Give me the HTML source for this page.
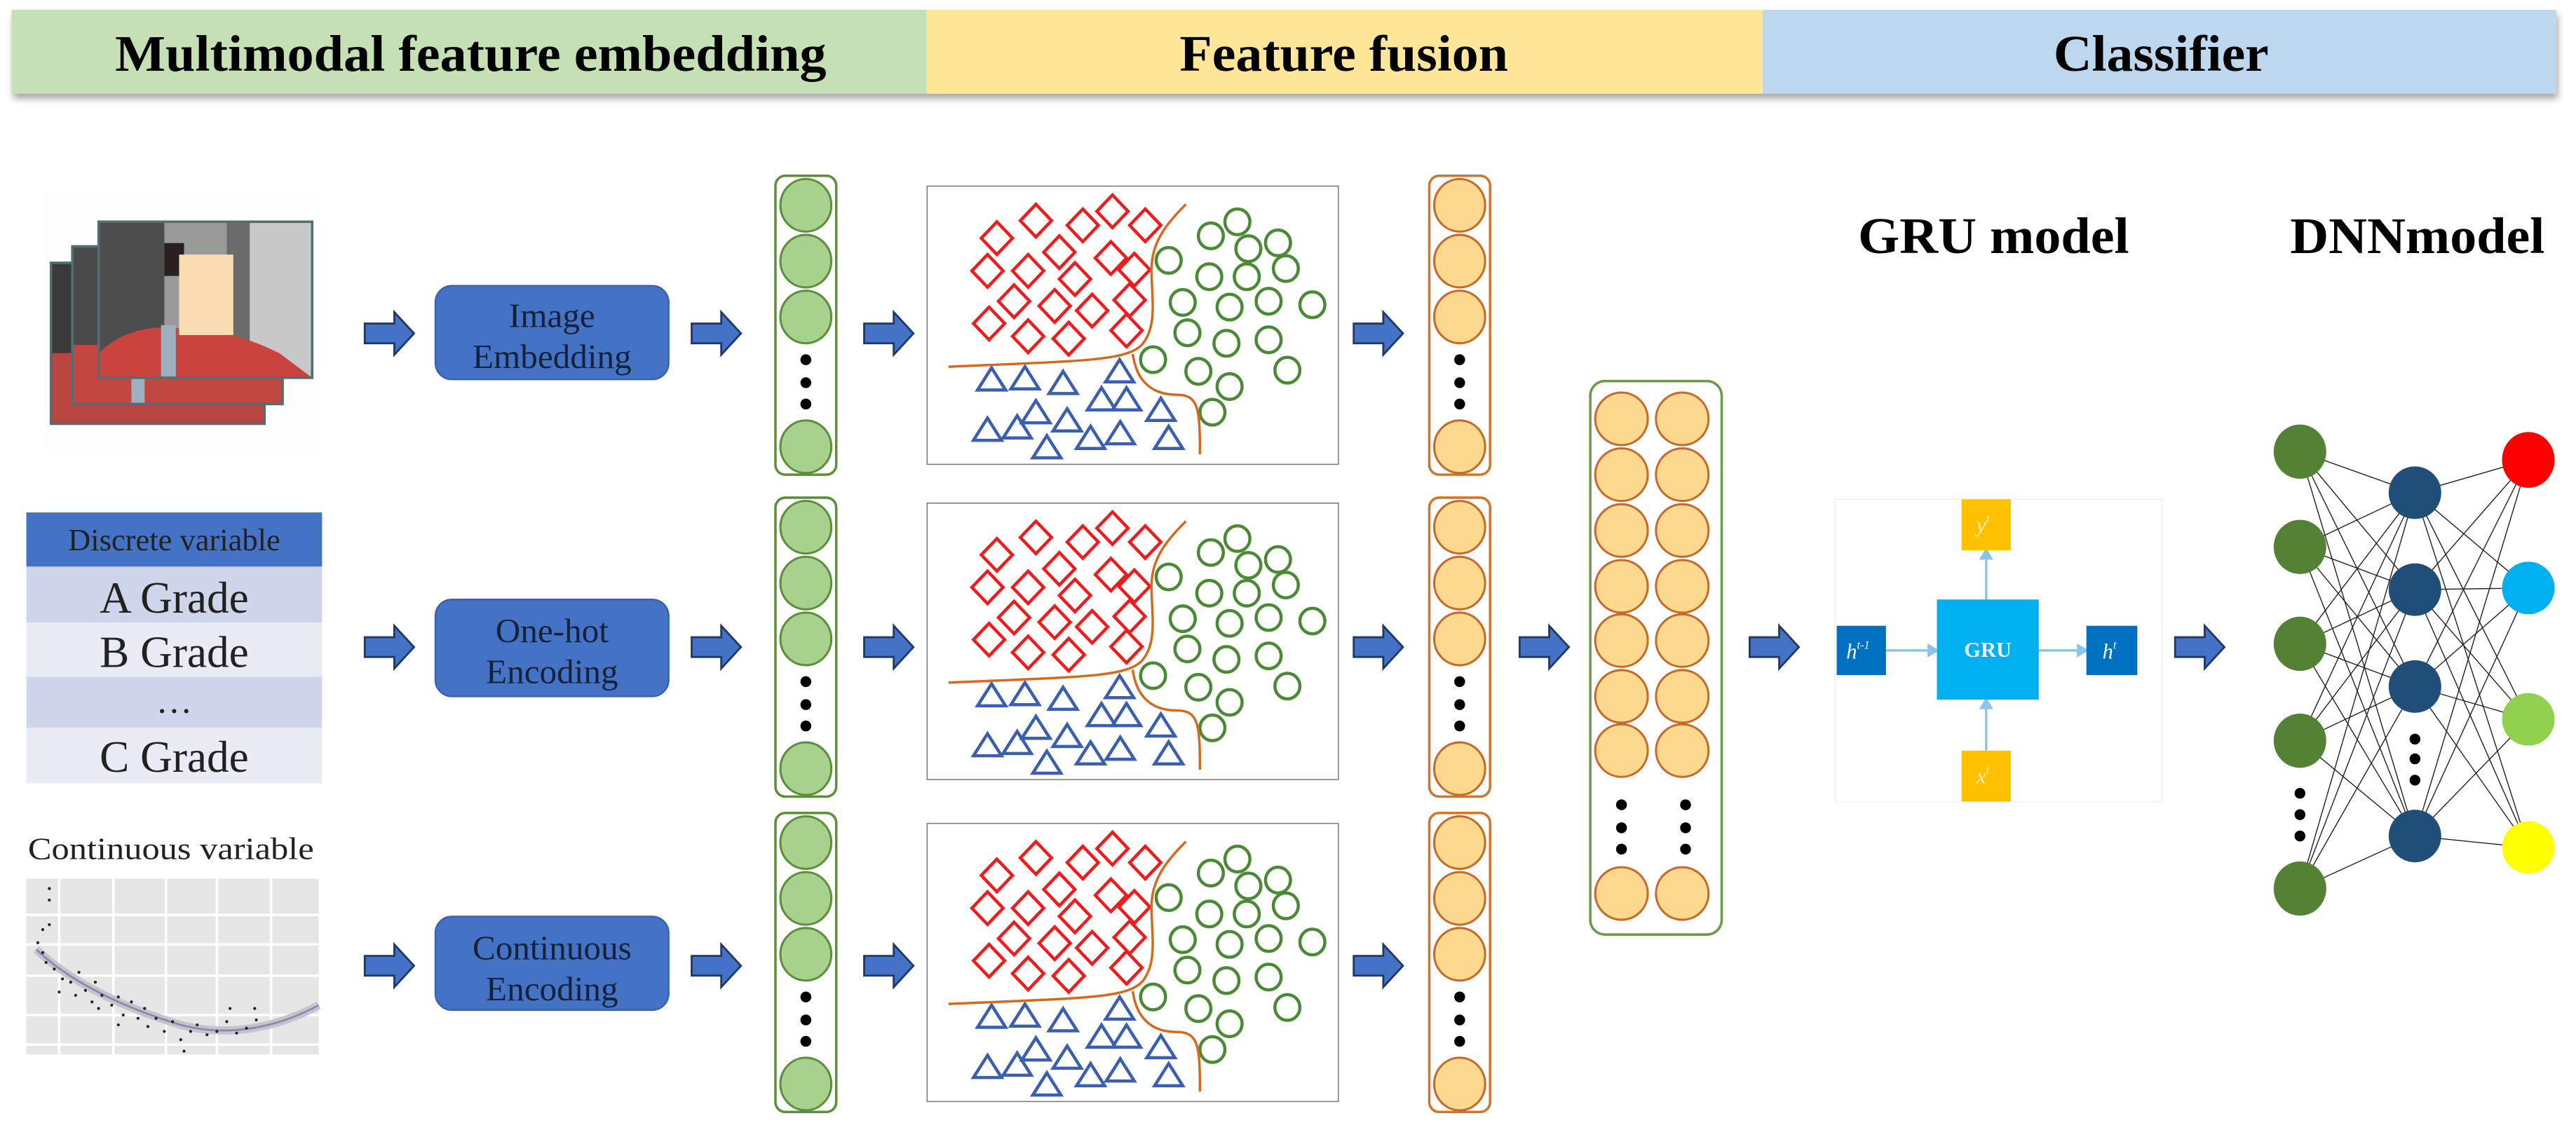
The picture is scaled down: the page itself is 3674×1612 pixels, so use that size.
<!DOCTYPE html>
<html><head><meta charset="utf-8"><style>html,body{margin:0;padding:0;background:#fff;}svg{display:block}text{font-family:"Liberation Serif","Times New Roman",serif;}</style></head>
<body>
<svg xmlns="http://www.w3.org/2000/svg" width="3674" height="1612" viewBox="0 0 1568 688">
<defs>
<filter id="sh" x="-5%" y="-20%" width="110%" height="160%"><feDropShadow dx="1" dy="3" stdDeviation="2" flood-color="#000" flood-opacity="0.35"/></filter>
<clipPath id="fp"><rect x="60" y="135" width="130" height="95"/></clipPath>
<clipPath id="mp"><rect x="44" y="150" width="128" height="96"/></clipPath>
<clipPath id="bp"><rect x="31" y="160" width="130" height="98"/></clipPath>
<symbol id="scat" viewBox="50 40 1320 1195" preserveAspectRatio="none">
<rect x="50" y="40" width="1320" height="1195" fill="#fff" stroke="#777" stroke-width="3" vector-effect="non-scaling-stroke"/>
<g fill="none" stroke="#ee1c1c" stroke-width="4.5">
<polygon vector-effect="non-scaling-stroke" points="350,190 400,120 450,190 400,260"/>
<polygon vector-effect="non-scaling-stroke" points="595,150 645,80 695,150 645,220"/>
<polygon vector-effect="non-scaling-stroke" points="500,210 550,140 600,210 550,280"/>
<polygon vector-effect="non-scaling-stroke" points="700,210 750,140 800,210 750,280"/>
<polygon vector-effect="non-scaling-stroke" points="225,265 275,195 325,265 275,335"/>
<polygon vector-effect="non-scaling-stroke" points="425,325 475,255 525,325 475,395"/>
<polygon vector-effect="non-scaling-stroke" points="590,350 640,280 690,350 640,420"/>
<polygon vector-effect="non-scaling-stroke" points="665,400 715,330 765,400 715,470"/>
<polygon vector-effect="non-scaling-stroke" points="195,405 245,335 295,405 245,475"/>
<polygon vector-effect="non-scaling-stroke" points="325,405 375,335 425,405 375,475"/>
<polygon vector-effect="non-scaling-stroke" points="475,440 525,370 575,440 525,510"/>
<polygon vector-effect="non-scaling-stroke" points="280,535 330,465 380,535 330,605"/>
<polygon vector-effect="non-scaling-stroke" points="410,555 460,485 510,555 460,625"/>
<polygon vector-effect="non-scaling-stroke" points="650,530 700,460 750,530 700,600"/>
<polygon vector-effect="non-scaling-stroke" points="530,575 580,505 630,575 580,645"/>
<polygon vector-effect="non-scaling-stroke" points="200,630 250,560 300,630 250,700"/>
<polygon vector-effect="non-scaling-stroke" points="325,685 375,615 425,685 375,755"/>
<polygon vector-effect="non-scaling-stroke" points="455,695 505,625 555,695 505,765"/>
<polygon vector-effect="non-scaling-stroke" points="640,660 690,590 740,660 690,730"/>
</g>
<g fill="none" stroke="#3b5fb0" stroke-width="4.5">
<polygon vector-effect="non-scaling-stroke" points="258,820 213,915 303,915"/>
<polygon vector-effect="non-scaling-stroke" points="365,815 320,910 410,910"/>
<polygon vector-effect="non-scaling-stroke" points="487,835 442,930 532,930"/>
<polygon vector-effect="non-scaling-stroke" points="668,785 623,880 713,880"/>
<polygon vector-effect="non-scaling-stroke" points="610,905 565,1000 655,1000"/>
<polygon vector-effect="non-scaling-stroke" points="690,905 645,1000 735,1000"/>
<polygon vector-effect="non-scaling-stroke" points="400,960 355,1055 445,1055"/>
<polygon vector-effect="non-scaling-stroke" points="800,950 755,1045 845,1045"/>
<polygon vector-effect="non-scaling-stroke" points="500,995 455,1090 545,1090"/>
<polygon vector-effect="non-scaling-stroke" points="245,1035 200,1130 290,1130"/>
<polygon vector-effect="non-scaling-stroke" points="340,1025 295,1120 385,1120"/>
<polygon vector-effect="non-scaling-stroke" points="575,1070 530,1165 620,1165"/>
<polygon vector-effect="non-scaling-stroke" points="670,1050 625,1145 715,1145"/>
<polygon vector-effect="non-scaling-stroke" points="825,1070 780,1165 870,1165"/>
<polygon vector-effect="non-scaling-stroke" points="435,1110 390,1205 480,1205"/>
</g>
<g fill="none" stroke="#4a8a35" stroke-width="4.5">
<ellipse vector-effect="non-scaling-stroke" cx="1045" cy="195" rx="40" ry="55"/>
<ellipse vector-effect="non-scaling-stroke" cx="960" cy="255" rx="40" ry="55"/>
<ellipse vector-effect="non-scaling-stroke" cx="1080" cy="310" rx="40" ry="55"/>
<ellipse vector-effect="non-scaling-stroke" cx="1175" cy="285" rx="40" ry="55"/>
<ellipse vector-effect="non-scaling-stroke" cx="825" cy="360" rx="40" ry="55"/>
<ellipse vector-effect="non-scaling-stroke" cx="955" cy="430" rx="40" ry="55"/>
<ellipse vector-effect="non-scaling-stroke" cx="1075" cy="430" rx="40" ry="55"/>
<ellipse vector-effect="non-scaling-stroke" cx="1200" cy="395" rx="40" ry="55"/>
<ellipse vector-effect="non-scaling-stroke" cx="870" cy="540" rx="40" ry="55"/>
<ellipse vector-effect="non-scaling-stroke" cx="1020" cy="560" rx="40" ry="55"/>
<ellipse vector-effect="non-scaling-stroke" cx="1145" cy="535" rx="40" ry="55"/>
<ellipse vector-effect="non-scaling-stroke" cx="1285" cy="550" rx="40" ry="55"/>
<ellipse vector-effect="non-scaling-stroke" cx="885" cy="670" rx="40" ry="55"/>
<ellipse vector-effect="non-scaling-stroke" cx="1010" cy="715" rx="40" ry="55"/>
<ellipse vector-effect="non-scaling-stroke" cx="1145" cy="700" rx="40" ry="55"/>
<ellipse vector-effect="non-scaling-stroke" cx="775" cy="785" rx="40" ry="55"/>
<ellipse vector-effect="non-scaling-stroke" cx="920" cy="835" rx="40" ry="55"/>
<ellipse vector-effect="non-scaling-stroke" cx="1020" cy="900" rx="40" ry="55"/>
<ellipse vector-effect="non-scaling-stroke" cx="1205" cy="830" rx="40" ry="55"/>
<ellipse vector-effect="non-scaling-stroke" cx="965" cy="1010" rx="40" ry="55"/>
</g>
<g fill="none" stroke="#d46a1e" stroke-width="3.5">
<path vector-effect="non-scaling-stroke" d="M880,120 C820,200 770,280 770,400 C770,520 790,640 740,720 C690,790 560,790 120,815"/>
<path vector-effect="non-scaling-stroke" d="M710,760 C720,860 760,935 850,935 C920,935 925,990 925,1190"/>
</g>
</symbol>
<g id="arr"><path d="M0,-6 L18,-6 L18,-13 L30,0 L18,13 L18,6 L0,6 Z" fill="#4472C4" stroke="#1f3864" stroke-width="1.2"/></g>
<g id="gcol">
<rect x="0" y="0" width="37" height="182" rx="6" fill="#fff" stroke="#5b8f3a" stroke-width="1.5"/>
<g fill="#a9d18e" stroke="#5b8f3a" stroke-width="1.3">
<ellipse cx="18.5" cy="18" rx="15.5" ry="16"/><ellipse cx="18.5" cy="52" rx="15.5" ry="16"/><ellipse cx="18.5" cy="86" rx="15.5" ry="16"/><ellipse cx="18.5" cy="165" rx="15.5" ry="16"/></g>
<g fill="#000"><circle cx="18.5" cy="112" r="3.3"/><circle cx="18.5" cy="126" r="3.3"/><circle cx="18.5" cy="139" r="3.3"/></g>
</g>
<g id="ocol">
<rect x="0" y="0" width="37" height="182" rx="6" fill="#fff" stroke="#d0762a" stroke-width="1.5"/>
<g fill="#fdd88f" stroke="#c8692a" stroke-width="1.3">
<ellipse cx="18.5" cy="18" rx="15.5" ry="16"/><ellipse cx="18.5" cy="52" rx="15.5" ry="16"/><ellipse cx="18.5" cy="86" rx="15.5" ry="16"/><ellipse cx="18.5" cy="165" rx="15.5" ry="16"/></g>
<g fill="#000"><circle cx="18.5" cy="112" r="3.3"/><circle cx="18.5" cy="126" r="3.3"/><circle cx="18.5" cy="139" r="3.3"/></g>
</g>
</defs>

<!-- header -->
<g filter="url(#sh)">
<rect x="7" y="6" width="557" height="51" fill="#c5e0b4"/>
<rect x="564" y="6" width="509" height="51" fill="#ffe699"/>
<rect x="1073" y="6" width="483" height="51" fill="#bdd7ee"/>
</g>
<g font-weight="bold" font-size="31" fill="#000">
<text x="70" y="43" textLength="433" lengthAdjust="spacingAndGlyphs">Multimodal feature embedding</text>
<text x="718" y="43" textLength="200" lengthAdjust="spacingAndGlyphs">Feature fusion</text>
<text x="1250" y="43" textLength="131" lengthAdjust="spacingAndGlyphs">Classifier</text>
<text x="1131" y="154" textLength="165" lengthAdjust="spacingAndGlyphs">GRU model</text>
<text x="1394" y="154" textLength="155" lengthAdjust="spacingAndGlyphs">DNNmodel</text>
</g>

<!-- photo stack -->
<rect x="27" y="116" width="168" height="158" fill="#fdfdfd"/>
<g clip-path="url(#bp)"><rect x="31" y="160" width="130" height="98" fill="#3a3a3a"/><rect x="31" y="215" width="130" height="43" fill="#b84540"/></g>
<rect x="31" y="160" width="130" height="98" fill="none" stroke="#4f6f70" stroke-width="1.5"/>
<g clip-path="url(#mp)"><rect x="44" y="150" width="128" height="96" fill="#4a4a4a"/><rect x="44" y="210" width="128" height="36" fill="#c24741"/><rect x="80" y="210" width="8" height="36" fill="#9db0c0"/></g>
<rect x="44" y="150" width="128" height="96" fill="none" stroke="#4f6f70" stroke-width="1.5"/>
<g clip-path="url(#fp)">
<rect x="60" y="135" width="130" height="95" fill="#9a9a9a"/>
<rect x="60" y="135" width="40" height="95" fill="#4d4d4d"/>
<rect x="150" y="135" width="40" height="95" fill="#c8c8c8"/>
<rect x="138" y="135" width="14" height="95" fill="#6b6b6b"/>
<path d="M60,230 L60,215 C75,200 95,198 110,200 C130,200 150,205 170,215 L190,230 Z" fill="#c9443f"/>
<rect x="98" y="198" width="9" height="32" fill="#9db0c0"/>
<rect x="100" y="148" width="12" height="20" fill="#2a2020"/>
<rect x="109" y="155" width="33" height="49" fill="#fbdcb3"/>
</g>
<rect x="60" y="135" width="130" height="95" fill="none" stroke="#4f6f70" stroke-width="1.5"/>

<!-- discrete table -->
<rect x="16" y="312" width="180" height="33" fill="#4472c4"/>
<rect x="16" y="345" width="180" height="34" fill="#cfd5ea"/>
<rect x="16" y="379" width="180" height="33" fill="#e9ebf5"/>
<rect x="16" y="412" width="180" height="31" fill="#cfd5ea"/>
<rect x="16" y="443" width="180" height="34" fill="#e9ebf5"/>
<g fill="#222" text-anchor="middle">
<text x="106" y="335" font-size="19">Discrete variable</text>
<text x="106" y="373" font-size="27">A Grade</text>
<text x="106" y="406" font-size="27">B Grade</text>
<text x="106" y="434" font-size="22">…</text>
<text x="106" y="470" font-size="27">C Grade</text>
<text x="104" y="523" font-size="19" textLength="174" lengthAdjust="spacingAndGlyphs">Continuous variable</text>
</g>

<!-- continuous plot -->
<rect x="16" y="535" width="178" height="107" fill="#e6e6e6"/>
<g stroke="#fff" stroke-width="1.5">
<line x1="36" y1="535" x2="36" y2="642"/><line x1="69" y1="535" x2="69" y2="642"/><line x1="101" y1="535" x2="101" y2="642"/><line x1="132" y1="535" x2="132" y2="642"/><line x1="165" y1="535" x2="165" y2="642"/>
<line x1="16" y1="557" x2="194" y2="557"/><line x1="16" y1="575" x2="194" y2="575"/><line x1="16" y1="594" x2="194" y2="594"/><line x1="16" y1="618" x2="194" y2="618"/><line x1="16" y1="636" x2="194" y2="636"/>
</g>
<path d="M22,578 C45,600 80,615 110,624 C140,632 170,625 194,612" fill="none" stroke="#c4c4d0" stroke-width="5"/>
<path d="M22,578 C45,600 80,615 110,624 C140,632 170,625 194,612" fill="none" stroke="#8a8aa8" stroke-width="1.2"/>
<g fill="#222">
<circle cx="30" cy="541" r="0.9"/><circle cx="30" cy="548" r="0.9"/><circle cx="26" cy="566" r="0.9"/><circle cx="30" cy="563" r="0.9"/><circle cx="23" cy="574" r="0.9"/><circle cx="26" cy="580" r="0.9"/><circle cx="28" cy="586" r="0.9"/><circle cx="33" cy="590" r="0.9"/><circle cx="38" cy="596" r="0.9"/><circle cx="36" cy="604" r="0.9"/><circle cx="43" cy="598" r="0.9"/><circle cx="46" cy="606" r="0.9"/><circle cx="52" cy="603" r="0.9"/><circle cx="56" cy="610" r="0.9"/><circle cx="60" cy="614" r="0.9"/><circle cx="62" cy="606" r="0.9"/><circle cx="68" cy="612" r="0.9"/><circle cx="72" cy="607" r="0.9"/><circle cx="75" cy="618" r="0.9"/><circle cx="80" cy="610" r="0.9"/><circle cx="84" cy="620" r="0.9"/><circle cx="88" cy="614" r="0.9"/><circle cx="90" cy="625" r="0.9"/><circle cx="95" cy="620" r="0.9"/><circle cx="100" cy="628" r="0.9"/><circle cx="105" cy="622" r="0.9"/><circle cx="110" cy="633" r="0.9"/><circle cx="116" cy="628" r="0.9"/><circle cx="120" cy="624" r="0.9"/><circle cx="126" cy="630" r="0.9"/><circle cx="132" cy="628" r="0.9"/><circle cx="138" cy="622" r="0.9"/><circle cx="144" cy="629" r="0.9"/><circle cx="150" cy="626" r="0.9"/><circle cx="156" cy="621" r="0.9"/><circle cx="72" cy="624" r="0.9"/><circle cx="58" cy="598" r="0.9"/><circle cx="48" cy="592" r="0.9"/><circle cx="112" cy="640" r="0.9"/><circle cx="140" cy="614" r="0.9"/><circle cx="155" cy="614" r="0.9"/>
</g>

<!-- arrows rows -->
<use href="#arr" x="222" y="203"/><use href="#arr" x="421" y="203"/><use href="#arr" x="526" y="203"/><use href="#arr" x="824" y="203"/>
<use href="#arr" x="222" y="394"/><use href="#arr" x="421" y="394"/><use href="#arr" x="526" y="394"/><use href="#arr" x="824" y="394"/>
<use href="#arr" x="222" y="588"/><use href="#arr" x="421" y="588"/><use href="#arr" x="526" y="588"/><use href="#arr" x="824" y="588"/>
<use href="#arr" x="925" y="394"/><use href="#arr" x="1065" y="394"/><use href="#arr" x="1324" y="394"/>

<!-- embedding boxes -->
<g fill="#4472c4" stroke="#3a62aa" stroke-width="1">
<rect x="265" y="174" width="142" height="57" rx="10"/>
<rect x="265" y="365" width="142" height="59" rx="10"/>
<rect x="265" y="558" width="142" height="57" rx="10"/>
</g>
<g fill="#16213a" font-size="21" text-anchor="middle">
<text x="336" y="199">Image</text><text x="336" y="224">Embedding</text>
<text x="336" y="391">One-hot</text><text x="336" y="416">Encoding</text>
<text x="336" y="584">Continuous</text><text x="336" y="609">Encoding</text>
</g>

<!-- columns -->
<use href="#gcol" x="472" y="107"/><use href="#gcol" x="472" y="303"/><use href="#gcol" x="472" y="495"/>
<use href="#ocol" x="870" y="107"/><use href="#ocol" x="870" y="303"/><use href="#ocol" x="870" y="495"/>

<!-- scatter boxes -->
<use href="#scat" x="564" y="113" width="251" height="170"/>
<use href="#scat" x="564" y="306" width="251" height="169"/>
<use href="#scat" x="564" y="501" width="251" height="170"/>

<!-- fused column -->
<rect x="968" y="232" width="80" height="337" rx="9" fill="#fff" stroke="#6a9a4a" stroke-width="1.5"/>
<g fill="#fdd88f" stroke="#c8692a" stroke-width="1.3">
<ellipse cx="987" cy="255" rx="16" ry="16"/><ellipse cx="1024" cy="255" rx="16" ry="16"/>
<ellipse cx="987" cy="289" rx="16" ry="16"/><ellipse cx="1024" cy="289" rx="16" ry="16"/>
<ellipse cx="987" cy="323" rx="16" ry="16"/><ellipse cx="1024" cy="323" rx="16" ry="16"/>
<ellipse cx="987" cy="357" rx="16" ry="16"/><ellipse cx="1024" cy="357" rx="16" ry="16"/>
<ellipse cx="987" cy="390" rx="16" ry="16"/><ellipse cx="1024" cy="390" rx="16" ry="16"/>
<ellipse cx="987" cy="424" rx="16" ry="16"/><ellipse cx="1024" cy="424" rx="16" ry="16"/>
<ellipse cx="987" cy="457" rx="16" ry="16"/><ellipse cx="1024" cy="457" rx="16" ry="16"/>
<ellipse cx="987" cy="544" rx="16" ry="16"/><ellipse cx="1024" cy="544" rx="16" ry="16"/>
</g>
<g fill="#000"><circle cx="987" cy="490" r="3.3"/><circle cx="987" cy="504" r="3.3"/><circle cx="987" cy="517" r="3.3"/><circle cx="1026" cy="490" r="3.3"/><circle cx="1026" cy="504" r="3.3"/><circle cx="1026" cy="517" r="3.3"/></g>

<!-- GRU -->
<rect x="1117" y="304" width="199" height="184" fill="#fff" stroke="#f2f2f2" stroke-width="0.8"/>
<g stroke="#8cc4ec" stroke-width="1.5" fill="#8cc4ec">
<line x1="1148" y1="396" x2="1176" y2="396"/><path d="M1179,396 l-5,-3 v6 z"/>
<line x1="1241" y1="396" x2="1267" y2="396"/><path d="M1270,396 l-5,-3 v6 z"/>
<line x1="1209" y1="365" x2="1209" y2="338"/><path d="M1209,335 l-3,5 h6 z"/>
<line x1="1209" y1="457" x2="1209" y2="429"/><path d="M1209,426 l-3,5 h6 z"/>
</g>
<rect x="1118" y="381" width="30" height="30" fill="#0070c0"/>
<rect x="1179" y="365" width="62" height="61" fill="#00b0f0"/>
<rect x="1270" y="381" width="31" height="30" fill="#0070c0"/>
<rect x="1194" y="304" width="30" height="31" fill="#ffc000"/>
<rect x="1194" y="457" width="30" height="31" fill="#ffc000"/>
<g fill="#fff" font-style="italic" font-size="13" text-anchor="middle">
<text x="1131" y="401">h<tspan font-size="7" dy="-6">t-1</tspan></text>
<text x="1284" y="401">h<tspan font-size="7" dy="-6">t</tspan></text>
<text x="1207" y="324" fill="#fff4c0">y<tspan font-size="7" dy="-6">t</tspan></text>
<text x="1207" y="477" fill="#fff4c0">x<tspan font-size="7" dy="-6">t</tspan></text>
</g>
<text x="1210" y="400" fill="#e8f6ff" font-size="13" font-weight="bold" text-anchor="middle">GRU</text>

<!-- DNN -->
<g stroke="#222" stroke-width="0.6">
<line x1="1400" y1="275" x2="1470" y2="300"/><line x1="1400" y1="275" x2="1470" y2="359"/><line x1="1400" y1="275" x2="1470" y2="418"/><line x1="1400" y1="275" x2="1470" y2="509"/>
<line x1="1400" y1="333" x2="1470" y2="300"/><line x1="1400" y1="333" x2="1470" y2="359"/><line x1="1400" y1="333" x2="1470" y2="418"/><line x1="1400" y1="333" x2="1470" y2="509"/>
<line x1="1400" y1="392" x2="1470" y2="300"/><line x1="1400" y1="392" x2="1470" y2="359"/><line x1="1400" y1="392" x2="1470" y2="418"/><line x1="1400" y1="392" x2="1470" y2="509"/>
<line x1="1400" y1="451" x2="1470" y2="300"/><line x1="1400" y1="451" x2="1470" y2="359"/><line x1="1400" y1="451" x2="1470" y2="418"/><line x1="1400" y1="451" x2="1470" y2="509"/>
<line x1="1400" y1="541" x2="1470" y2="300"/><line x1="1400" y1="541" x2="1470" y2="359"/><line x1="1400" y1="541" x2="1470" y2="418"/><line x1="1400" y1="541" x2="1470" y2="509"/>
<line x1="1470" y1="300" x2="1539" y2="280"/><line x1="1470" y1="300" x2="1539" y2="358"/><line x1="1470" y1="300" x2="1539" y2="438"/><line x1="1470" y1="300" x2="1539" y2="516"/>
<line x1="1470" y1="359" x2="1539" y2="280"/><line x1="1470" y1="359" x2="1539" y2="358"/><line x1="1470" y1="359" x2="1539" y2="438"/><line x1="1470" y1="359" x2="1539" y2="516"/>
<line x1="1470" y1="418" x2="1539" y2="280"/><line x1="1470" y1="418" x2="1539" y2="358"/><line x1="1470" y1="418" x2="1539" y2="438"/><line x1="1470" y1="418" x2="1539" y2="516"/>
<line x1="1470" y1="509" x2="1539" y2="280"/><line x1="1470" y1="509" x2="1539" y2="358"/><line x1="1470" y1="509" x2="1539" y2="438"/><line x1="1470" y1="509" x2="1539" y2="516"/>
</g>
<g fill="#548235">
<ellipse cx="1400" cy="275" rx="16" ry="16.5"/><ellipse cx="1400" cy="333" rx="16" ry="16.5"/><ellipse cx="1400" cy="392" rx="16" ry="16.5"/><ellipse cx="1400" cy="451" rx="16" ry="16.5"/><ellipse cx="1400" cy="541" rx="16" ry="16.5"/>
</g>
<g fill="#1f4e79">
<ellipse cx="1470" cy="300" rx="16" ry="16"/><ellipse cx="1470" cy="359" rx="16" ry="16"/><ellipse cx="1470" cy="418" rx="16" ry="16"/><ellipse cx="1470" cy="509" rx="16" ry="16"/>
</g>
<ellipse cx="1539" cy="280" rx="16" ry="17" fill="#ff0000"/>
<ellipse cx="1539" cy="358" rx="16" ry="16" fill="#00b0f0"/>
<ellipse cx="1539" cy="438" rx="16" ry="16" fill="#92d050"/>
<ellipse cx="1539" cy="516" rx="16" ry="16" fill="#ffff00"/>
<g fill="#000">
<circle cx="1400" cy="483" r="3.3"/><circle cx="1400" cy="496" r="3.3"/><circle cx="1400" cy="509" r="3.3"/>
<circle cx="1470" cy="450" r="3.3"/><circle cx="1470" cy="462" r="3.3"/><circle cx="1470" cy="475" r="3.3"/>
</g>
</svg>
</body></html>
